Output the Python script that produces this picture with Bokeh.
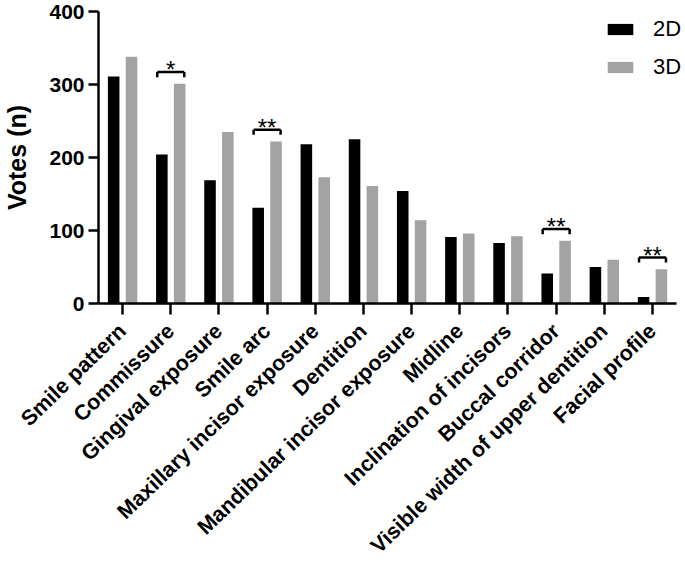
import math
from bokeh.plotting import figure
from bokeh.models import ColumnDataSource, Range1d, Legend, LegendItem, FixedTicker
from bokeh.transform import dodge
from bokeh.core.properties import value
from bokeh.embed import file_html
from bokeh.resources import INLINE

# ---- data ----
categories = ["Smile pattern", "Commissure", "Gingival exposure", "Smile arc",
              "Maxillary incisor exposure", "Dentition", "Mandibular incisor exposure",
              "Midline", "Inclination of incisors", "Buccal corridor",
              "Visible width of upper dentition", "Facial profile"]
votes_2d = [311, 204, 169, 131, 218, 225, 154, 91, 83, 41, 50, 9]
votes_3d = [338, 301, 235, 222, 173, 161, 114, 96, 92, 86, 60, 47]
significance = ["", "*", "", "**", "", "", "", "", "", "**", "", "**"]
series_names = ["2D", "3D"]
y_ticks = [0, 100, 200, 300, 400]

FONT = "Liberation Sans"
BLACK = "#000000"
GRAY = "#a3a3a3"

n = len(categories)
x_pos = [i + 0.5 for i in range(n)]          # category centres on the numeric scale
src = ColumnDataSource(dict(x=x_pos, cat=categories, v2=votes_2d, v3=votes_3d))

# frame spans the full width so the legend is not clipped; axis is bounded to 0..n
p = figure(width=685, height=569,
           x_range=Range1d(0, n * 593 / 584), y_range=Range1d(0, 400),
           output_backend="svg", toolbar_location=None,
           min_border_left=92, min_border_right=0,
           min_border_top=11, min_border_bottom=265)
p.outline_line_color = None
p.xgrid.grid_line_color = None
p.ygrid.grid_line_color = None
p.background_fill_color = "white"
p.border_fill_color = "white"

r2 = p.vbar(x=dodge("x", -0.185, range=p.x_range), top="v2", width=0.24,
            source=src, fill_color=BLACK, line_color=None)
r3 = p.vbar(x=dodge("x", 0.185, range=p.x_range), top="v3", width=0.24,
            source=src, fill_color=GRAY, line_color=None)

# significance brackets
sx, sig_lab, sig_y = [], [], []
for xc, a, b, s in zip(x_pos, votes_2d, votes_3d, significance):
    if s:
        sx.append(xc)
        sig_lab.append(s)
        sig_y.append(max(a, b) + 16)
sig_src = ColumnDataSource(dict(x=sx, lab=sig_lab, y=sig_y,
                                yleg=[v - 7 for v in sig_y],
                                ystar=[v + 3 for v in sig_y]))
L = dodge("x", -0.28, range=p.x_range)
R = dodge("x", 0.28, range=p.x_range)
seg_kw = dict(source=sig_src, line_color=BLACK, line_width=2.5)
p.segment(x0=L, y0="y", x1=R, y1="y", **seg_kw)
p.segment(x0=L, y0="y", x1=L, y1="yleg", **seg_kw)
p.segment(x0=R, y0="y", x1=R, y1="yleg", **seg_kw)
p.text(x="x", y="ystar", text="lab", source=sig_src, text_align="center",
       text_baseline="alphabetic", text_font=value(FONT), text_font_size="24px",
       text_color=BLACK)

# axes
for ax in (p.xaxis[0], p.yaxis[0]):
    ax.axis_line_width = 2.5
    ax.axis_line_color = BLACK
    ax.major_tick_line_width = 2.5
    ax.major_tick_line_color = BLACK
    ax.major_tick_in = 0
    ax.major_tick_out = 10
    ax.minor_tick_line_color = None
    ax.major_label_text_font = FONT
    ax.major_label_text_font_style = "bold"
    ax.major_label_text_color = BLACK

p.yaxis.ticker = FixedTicker(ticks=y_ticks)
p.yaxis.major_label_text_font_size = "21px"
p.yaxis.major_label_standoff = 4
p.yaxis.axis_label = "Votes (n)"
p.yaxis.axis_label_text_font = FONT
p.yaxis.axis_label_text_font_style = "bold"
p.yaxis.axis_label_text_font_size = "25px"
p.yaxis.axis_label_text_color = BLACK
p.yaxis.axis_label_standoff = 15

p.xaxis.bounds = (0, n)
p.xaxis.ticker = FixedTicker(ticks=x_pos)
p.xaxis.major_label_overrides = {xc: c for xc, c in zip(x_pos, categories)}
p.xaxis.major_label_text_font_size = "21.5px"
p.xaxis.major_label_orientation = math.radians(44)
p.xaxis.major_label_standoff = 13
p.xaxis.major_tick_out = 11

legend = Legend(items=[LegendItem(label=series_names[0], renderers=[r2]),
                       LegendItem(label=series_names[1], renderers=[r3])],
                location=(506, 223), orientation="vertical",
                glyph_width=32, glyph_height=14, label_standoff=17,
                label_text_font=FONT, label_text_font_size="22px",
                label_text_color=BLACK, label_text_baseline="middle",
                padding=0, margin=0, spacing=12,
                border_line_color=None, background_fill_alpha=0)
p.add_layout(legend)

open("out.html", "w").write(file_html(p, INLINE))
